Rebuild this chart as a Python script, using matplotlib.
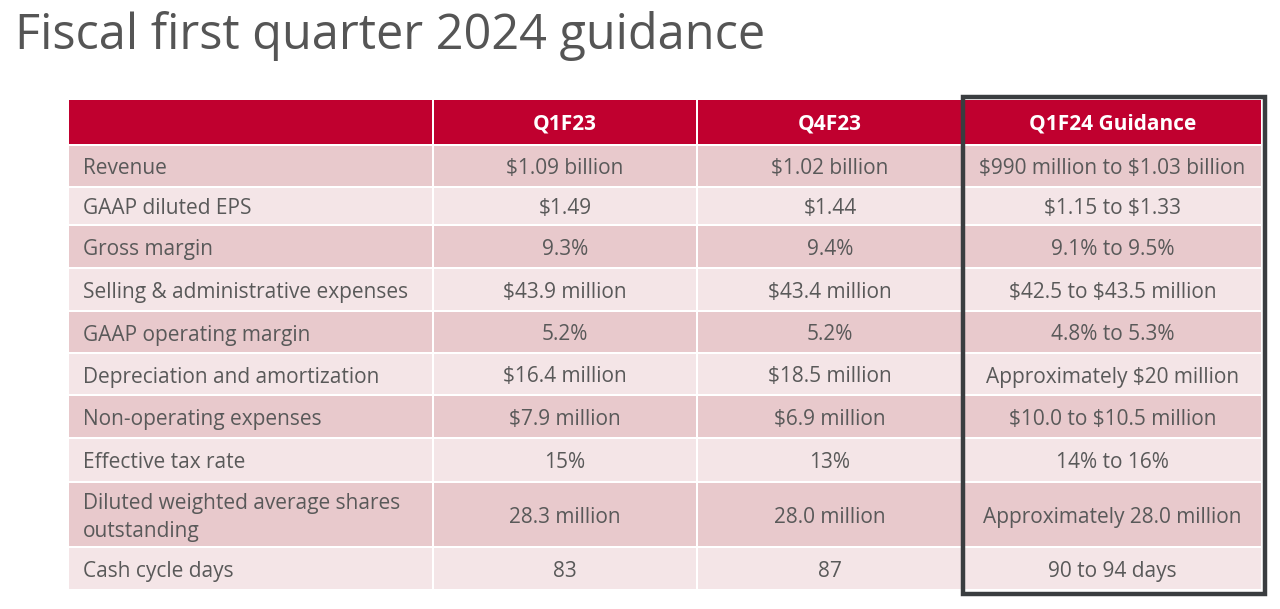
import matplotlib
matplotlib.use("Agg")
import matplotlib.pyplot as plt
from matplotlib.patches import Rectangle

title = "Fiscal first quarter 2024 guidance"
columns = ["", "Q1F23", "Q4F23", "Q1F24 Guidance"]
metrics = [
    "Revenue",
    "GAAP diluted EPS",
    "Gross margin",
    "Selling & administrative expenses",
    "GAAP operating margin",
    "Depreciation and amortization",
    "Non-operating expenses",
    "Effective tax rate",
    "Diluted weighted average shares\noutstanding",
    "Cash cycle days",
]
q1f23 = ["$1.09 billion", "$1.49", "9.3%", "$43.9 million", "5.2%",
         "$16.4 million", "$7.9 million", "15%", "28.3 million", "83"]
q4f23 = ["$1.02 billion", "$1.44", "9.4%", "$43.4 million", "5.2%",
         "$18.5 million", "$6.9 million", "13%", "28.0 million", "87"]
q1f24 = ["$990 million to $1.03 billion", "$1.15 to $1.33", "9.1% to 9.5%",
         "$42.5 to $43.5 million", "4.8% to 5.3%", "Approximately $20 million",
         "$10.0 to $10.5 million", "14% to 16%", "Approximately 28.0 million",
         "90 to 94 days"]

# layout (pixels)
W, H = 1280, 609
col_edges = [69, 434, 698, 964, 1263]
header_y = (100, 144)
row_edges = [146, 188, 226, 269, 312, 354, 396, 439, 483, 548, 591]
gap = 2

RED = "#C0002F"
DARK = "#E8C9CC"
LIGHT = "#F4E5E7"
TXT = "#595959"
FONT = "Open Sans"
FS = 15

fig = plt.figure(figsize=(W / 100, H / 100), dpi=100)
ax = fig.add_axes([0, 0, 1, 1])
ax.set_xlim(0, W)
ax.set_ylim(H, 0)
ax.axis("off")

ax.text(15, 36, title, fontsize=35, color="#555555", family=FONT,
        ha="left", va="center", parse_math=False)

# header
for j in range(4):
    x0 = col_edges[j]
    x1 = col_edges[j + 1] - gap
    ax.add_patch(Rectangle((x0, header_y[0]), x1 - x0, header_y[1] - header_y[0],
                           facecolor=RED, edgecolor="none"))
    if columns[j]:
        ax.text((x0 + x1) / 2, (header_y[0] + header_y[1]) / 2 + 2, columns[j],
                color="white", fontsize=15, fontweight="bold", family=FONT,
                ha="center", va="center", parse_math=False)

# body
for i, name in enumerate(metrics):
    y0 = row_edges[i]
    y1 = row_edges[i + 1] - gap
    fc = DARK if i % 2 == 0 else LIGHT
    vals = [name, q1f23[i], q4f23[i], q1f24[i]]
    for j in range(4):
        x0 = col_edges[j]
        x1 = col_edges[j + 1] - gap
        ax.add_patch(Rectangle((x0, y0), x1 - x0, y1 - y0,
                               facecolor=fc, edgecolor="none"))
        yc = (y0 + y1) / 2 + 3
        if j == 0:
            ax.text(x0 + 14, yc, vals[j], color=TXT, fontsize=FS, family=FONT,
                    ha="left", va="center", linespacing=1.38, parse_math=False)
        else:
            ax.text((x0 + x1) / 2, yc, vals[j], color=TXT, fontsize=FS,
                    family=FONT, ha="center", va="center", parse_math=False)

# highlight box around guidance column
ax.add_patch(Rectangle((963, 97), 1265 - 963, 594 - 97, facecolor="none",
                       edgecolor="#3A3D40", linewidth=3.2))

fig.savefig("out.png", dpi=100)
